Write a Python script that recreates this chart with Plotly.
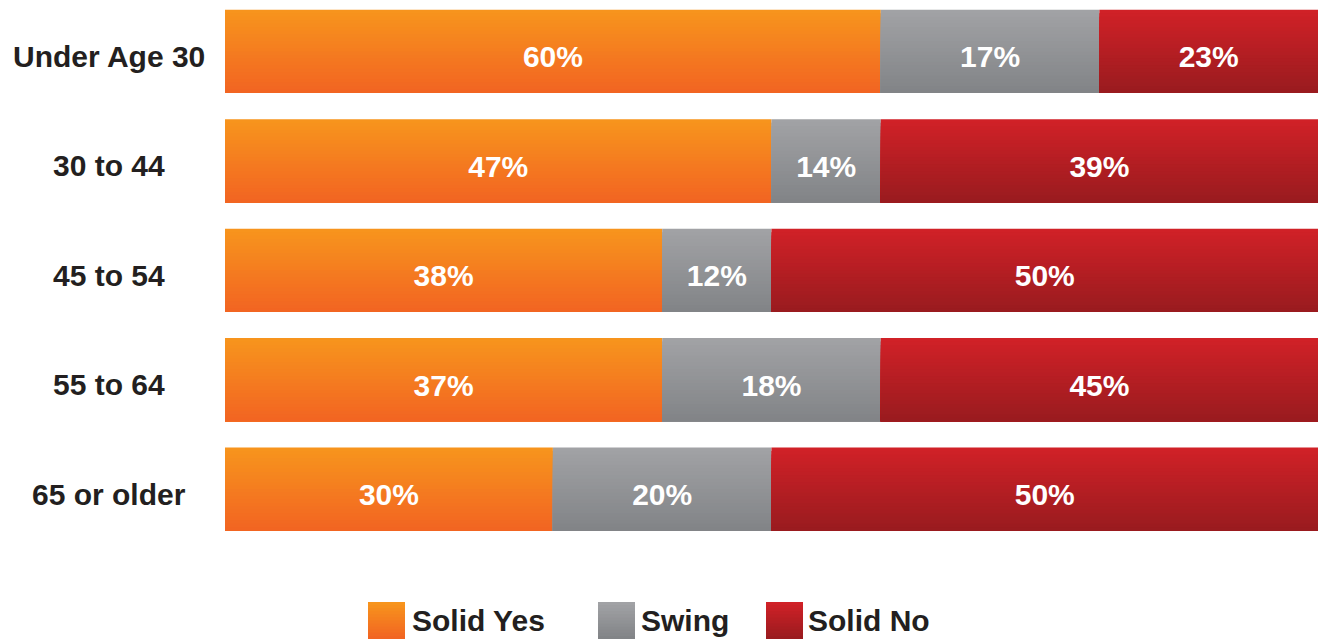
import plotly.graph_objects as go

# ---- data ----
categories = ["Under Age 30", "30 to 44", "45 to 54", "55 to 64", "65 or older"]
series_names = ["Solid Yes", "Swing", "Solid No"]
yes_pct = [60, 47, 38, 37, 30]
swing_pct = [17, 14, 12, 18, 20]
no_pct = [23, 39, 50, 45, 50]
# drawn segment lengths as they appear in the picture (rounded to tens)
yes_len = [60, 50, 40, 40, 30]
swing_len = [20, 10, 10, 20, 20]
no_len = [20, 40, 50, 40, 50]

# ---- style ----
grad = {
    "Solid Yes": ((0xF7, 0x94, 0x1D), (0xF2, 0x65, 0x22)),
    "Swing": ((0xA1, 0xA2, 0xA5), (0x82, 0x84, 0x87)),
    "Solid No": ((0xD0, 0x21, 0x27), (0x9A, 0x1B, 0x1F)),
}
W, HPX = 1322, 639
ML, MR, MT, MB = 225, 4, 0, 95
PW, PH = W - ML - MR, HPX - MT - MB
FONT = "Liberation Sans, Arial, Helvetica, sans-serif"
BAR_H = 0.76
N = 24
TEXT_DROP = 0.05  # text sits slightly below bar centre in the reference


def mix(c1, c2, t):
    return "rgb(%d,%d,%d)" % tuple(round(a + (b - a) * t) for a, b in zip(c1, c2))


fig = go.Figure()
ypos = list(range(len(categories)))

lens = [yes_len, swing_len, no_len]
pcts = [yes_pct, swing_pct, no_pct]
bases = []
acc = [0] * len(categories)
for L in lens:
    bases.append(list(acc))
    acc = [a + b for a, b in zip(acc, L)]

for name, L, B in zip(series_names, lens, bases):
    c1, c2 = grad[name]
    for k in range(N):
        fig.add_trace(go.Bar(
            x=L, y=ypos, base=B, orientation="h",
            width=BAR_H - k * BAR_H / N, offset=-BAR_H / 2 + k * BAR_H / N,
            marker=dict(color=mix(c1, c2, k / (N - 1)), line=dict(width=0)),
            showlegend=False, hoverinfo="skip",
        ))

for name, L, B, P in zip(series_names, lens, bases, pcts):
    fig.add_trace(go.Bar(
        x=L, y=ypos, base=B, orientation="h",
        width=BAR_H, offset=-BAR_H / 2 + TEXT_DROP,
        marker=dict(color="rgba(0,0,0,0)", line=dict(width=0)),
        text=[f"{p}%" for p in P], textposition="inside", insidetextanchor="middle",
        textangle=0, constraintext="none",
        textfont=dict(family=FONT, size=30, color="white", weight="bold"),
        name=name, showlegend=False,
    ))

# category labels (centered)
for i, c in enumerate(categories):
    fig.add_annotation(
        x=(109 - ML) / PW, xref="paper", y=i, yref="y", text=c, showarrow=False,
        xanchor="center", yanchor="middle", yshift=-5,
        font=dict(family=FONT, size=30, color="#231F20", weight="bold"),
    )


# custom legend with gradient swatches
def px_x(p):
    return (p - ML) / PW


def px_y(p):
    return (MT + PH - p) / PH


legend_items = [("Solid Yes", 368, 410), ("Swing", 598, 639), ("Solid No", 766, 806)]
sq_top, sq_bot = 602, 639
for name, sx, tx in legend_items:
    c1, c2 = grad[name]
    steps = 12
    for k in range(steps):
        y0 = sq_top + (sq_bot - sq_top) * k / steps
        fig.add_shape(type="rect", xref="paper", yref="paper",
                      x0=px_x(sx), x1=px_x(sx + 37), y0=px_y(sq_bot), y1=px_y(y0),
                      fillcolor=mix(c1, c2, k / (steps - 1)), line=dict(width=0), layer="above")
    fig.add_annotation(
        x=px_x(tx), xref="paper", y=px_y(620), yref="paper", text=name, showarrow=False,
        xanchor="left", yanchor="middle",
        font=dict(family=FONT, size=30, color="#231F20", weight="bold"),
    )

fig.update_layout(
    width=W, height=HPX,
    margin=dict(l=ML, r=MR, t=MT, b=MB),
    barmode="overlay",
    plot_bgcolor="white", paper_bgcolor="white",
    xaxis=dict(range=[0, 100], visible=False, fixedrange=True),
    yaxis=dict(range=[4.502, -0.47], visible=False, fixedrange=True),
    showlegend=False,
    uniformtext=dict(mode=False),
)

fig.write_html(
    "out.html",
    config={"displayModeBar": False},
    post_script="document.body.style.margin='0';document.body.style.overflow='hidden';",
)
